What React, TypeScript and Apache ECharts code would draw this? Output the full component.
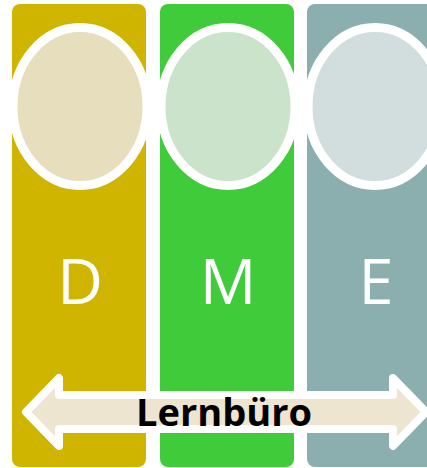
import React, { useEffect, useRef } from "react";
import * as echarts from "echarts";

const letters = ["D", "M", "E"];
const panelColors = ["#CFB500", "#3FCB3A", "#8BAEAE"];
const circleColors = ["#E6DEBC", "#CAE3CA", "#D2DDDD"];
const arrowLabel = "Lernbüro";

const PANEL_X = [12, 160, 307];
const PANEL_W = 134;

export default function App() {
  const ref = useRef<HTMLDivElement>(null);
  useEffect(() => {
    if (!ref.current) return;
    const chart = echarts.init(ref.current, null, { renderer: "svg" });
    const elements: any[] = [];
    letters.forEach((l, i) => {
      const x = PANEL_X[i];
      const cx = x + PANEL_W / 2;
      elements.push({
        type: "rect",
        shape: { x, y: 4, width: PANEL_W, height: 463, r: 8 },
        style: { fill: panelColors[i] },
        z: 1,
      });
      elements.push({
        type: "ellipse",
        shape: { cx: cx + 1, cy: 106.5, rx: 67, ry: 79 },
        style: { fill: circleColors[i], stroke: "#ffffff", lineWidth: 9 },
        z: 2,
      });
      elements.push({
        type: "text",
        x: cx + (i === 2 ? 2 : 1),
        y: 279,
        style: {
          text: l,
          fill: "#ffffff",
          font: '400 63px "Open Sans"',
          align: "center",
          verticalAlign: "middle",
        },
        z: 3,
      });
    });
    const cy = 412;
    const pts = [
      [26, cy],
      [59, cy - 34],
      [59, cy - 17],
      [393, cy - 17],
      [393, cy - 34],
      [426, cy],
      [393, cy + 34],
      [393, cy + 17],
      [59, cy + 17],
      [59, cy + 34],
    ];
    elements.push({
      type: "polygon",
      shape: { points: pts },
      style: { fill: "#EDE5D0", stroke: "#ffffff", lineWidth: 8, lineJoin: "round" },
      z: 4,
    });
    elements.push({
      type: "text",
      x: 224,
      y: 410.5,
      style: {
        text: arrowLabel,
        fill: "#000000",
        font: '700 38px "Open Sans"',
        align: "center",
        verticalAlign: "middle",
      },
      z: 5,
    });
    chart.setOption({ animation: false, graphic: { elements } });
    return () => chart.dispose();
  }, []);
  return <div ref={ref} style={{ width: 427, height: 468, position: "absolute", left: 0, top: 0 }} />;
}
